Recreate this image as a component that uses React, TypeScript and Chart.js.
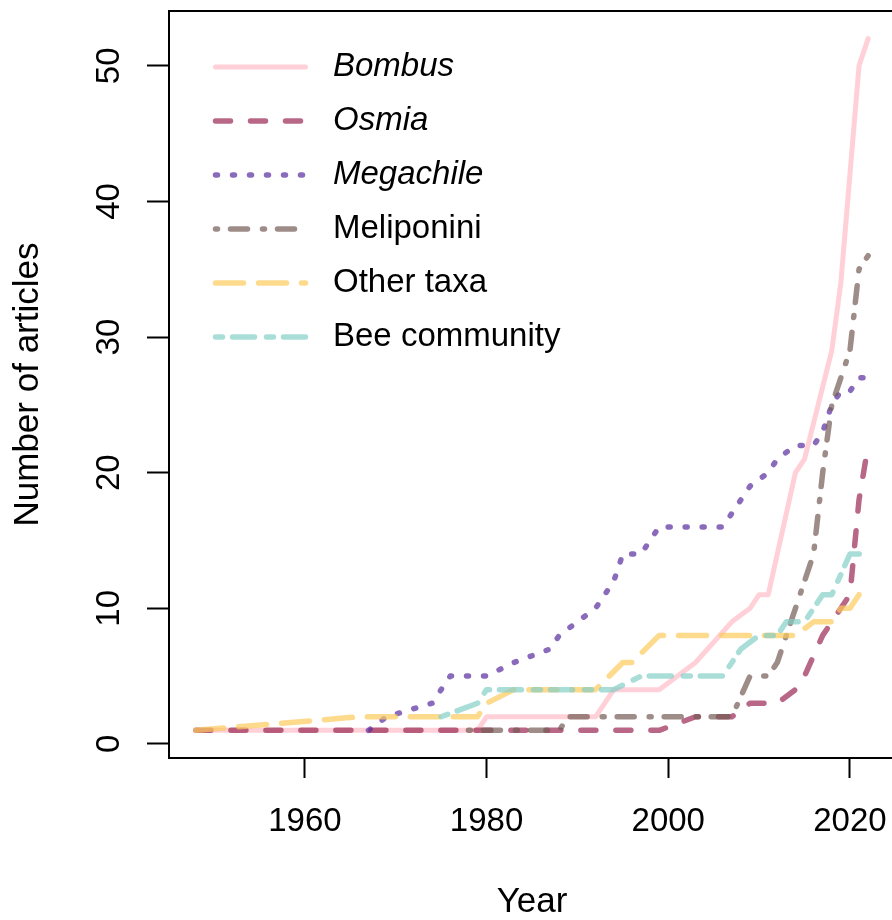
import React, { useEffect, useRef } from "react";
import { Chart, registerables } from "chart.js";

Chart.register(...registerables);

// ---------- data ----------
const SERIES_NAMES = ["Bombus", "Osmia", "Megachile", "Meliponini", "Other taxa", "Bee community"];
const SERIES_ITALIC = [true, true, true, false, false, false];

const BOMBUS_YEARS = [1948, 1979, 1980, 1992, 1994, 1999, 2003, 2007, 2009, 2010, 2011, 2014, 2015, 2018, 2019, 2020, 2021, 2022];
const BOMBUS_COUNTS = [1, 1, 2, 2, 4, 4, 6, 9, 10, 11, 11, 20, 21, 29, 34, 42, 50, 52];

const OSMIA_YEARS = [1948, 1999, 2003, 2007, 2009, 2010, 2012, 2014, 2015, 2017, 2019, 2020, 2021, 2022];
const OSMIA_COUNTS = [1, 1, 2, 2, 3, 3, 3, 4, 5, 8, 10, 11, 18, 22];

const MEGACHILE_YEARS = [1967, 1969, 1974, 1976, 1980, 1983, 1987, 1988, 1990, 1992, 1993, 1994, 1995, 1997, 1998, 1999, 2006, 2007, 2009, 2011, 2012, 2014, 2016, 2017, 2018, 2019, 2020, 2021, 2022];
const MEGACHILE_COUNTS = [1, 2, 3, 5, 5, 6, 7, 8, 9, 10, 11, 12, 14, 14, 15, 16, 16, 17, 19, 20, 21, 22, 22, 23, 25, 26, 26, 27, 27];

const MELIPONINI_YEARS = [1978, 1988, 1989, 2007, 2009, 2011, 2012, 2013, 2014, 2015, 2016, 2017, 2018, 2019, 2020, 2021, 2022];
const MELIPONINI_COUNTS = [1, 1, 2, 2, 5, 5, 6, 8, 10, 12, 14, 20, 25, 27, 29, 35, 36];

const OTHER_YEARS = [1948, 1966, 1979, 1980, 1983, 1992, 1995, 1996, 1999, 2014, 2016, 2018, 2019, 2020, 2021];
const OTHER_COUNTS = [1, 2, 2, 3, 4, 4, 6, 6, 8, 8, 9, 9, 10, 10, 11];

const COMMUNITY_YEARS = [1975, 1979, 1980, 1994, 1997, 2006, 2008, 2010, 2012, 2013, 2015, 2017, 2018, 2020, 2022];
const COMMUNITY_COUNTS = [2, 3, 4, 4, 5, 5, 7, 8, 8, 9, 9, 11, 11, 14, 14];

const X_TICKS = [1960, 1980, 2000, 2020];
const Y_TICKS = [0, 10, 20, 30, 40, 50];
const X_TITLE = "Year";
const Y_TITLE = "Number of articles";

// ---------- styles ----------
const FONT = '"Liberation Sans", Arial, Helvetica, sans-serif';
const COLORS = [
  "rgba(255,188,198,0.7)",
  "rgba(154,40,82,0.7)",
  "rgba(88,44,158,0.7)",
  "rgba(116,91,84,0.7)",
  "rgba(252,202,91,0.7)",
  "rgba(132,207,198,0.7)",
];
const DASHES: number[][] = [[], [15, 20], [2, 15], [2, 13, 17, 15], [28, 15], [7, 10, 22, 12]];
const WIDTHS = [5, 5.5, 5.5, 5.5, 5.5, 5.5];

const SERIES_YEARS = [BOMBUS_YEARS, OSMIA_YEARS, MEGACHILE_YEARS, MELIPONINI_YEARS, OTHER_YEARS, COMMUNITY_YEARS];
const SERIES_COUNTS = [BOMBUS_COUNTS, OSMIA_COUNTS, MEGACHILE_COUNTS, MELIPONINI_COUNTS, OTHER_COUNTS, COMMUNITY_COUNTS];

const boxPlugin = {
  id: "rBox",
  afterDraw(chart: any) {
    const { ctx, chartArea } = chart;
    ctx.save();
    ctx.strokeStyle = "#000";
    ctx.lineWidth = 2;
    ctx.setLineDash([]);
    ctx.strokeRect(chartArea.left, chartArea.top, chartArea.right - chartArea.left, chartArea.bottom - chartArea.top);
    ctx.restore();
  },
};

const legendPlugin = {
  id: "rLegend",
  afterDraw(chart: any) {
    const ctx = chart.ctx;
    const top = 67;
    const step = 54;
    const x0 = 215.5;
    const x1 = 305.5;
    const tx = 333;
    chart.data.datasets.forEach((ds: any, i: number) => {
      const y = top + i * step;
      ctx.save();
      ctx.strokeStyle = ds.borderColor;
      ctx.lineWidth = ds.borderWidth;
      ctx.lineCap = "round";
      ctx.setLineDash(ds.borderDash || []);
      ctx.beginPath();
      ctx.moveTo(x0, y);
      ctx.lineTo(x1, y);
      ctx.stroke();
      ctx.setLineDash([]);
      ctx.fillStyle = "#000";
      ctx.font = `${SERIES_ITALIC[i] ? "italic " : ""}33px ${FONT}`;
      ctx.textAlign = "left";
      ctx.textBaseline = "middle";
      ctx.fillText(ds.label, tx, y);
      ctx.restore();
    });
  },
};

export default function App() {
  const ref = useRef<HTMLCanvasElement | null>(null);

  useEffect(() => {
    if (!ref.current) return;
    const datasets = SERIES_NAMES.map((name, i) => ({
      label: name,
      data: SERIES_YEARS[i].map((yr, j) => ({ x: yr, y: SERIES_COUNTS[i][j] })),
      borderColor: COLORS[i],
      backgroundColor: COLORS[i],
      borderWidth: WIDTHS[i],
      borderDash: DASHES[i],
      borderCapStyle: "round",
      borderJoinStyle: "round",
      pointRadius: 0,
      tension: 0,
      fill: false,
      order: SERIES_NAMES.length - i,
    }));

    const chart = new Chart(ref.current, {
      type: "line",
      data: { datasets } as any,
      options: {
        animation: false,
        responsive: false,
        devicePixelRatio: 1,
        events: [],
        layout: { padding: { left: 0, top: 11, right: 25, bottom: 0 } },
        plugins: { legend: { display: false }, tooltip: { enabled: false } },
        scales: {
          x: {
            type: "linear",
            min: 1945.04,
            max: 2024.96,
            afterBuildTicks: (s: any) => {
              s.ticks = X_TICKS.map((v) => ({ value: v }));
            },
            afterFit: (s: any) => {
              s.height = 162;
              s.paddingLeft = 0;
              s.paddingRight = 0;
            },
            grid: { drawOnChartArea: false, drawTicks: true, tickLength: 20, tickWidth: 2, tickColor: "#000" },
            border: { display: false },
            ticks: {
              color: "#000",
              font: { family: FONT, size: 33 },
              padding: 24,
              maxRotation: 0,
              minRotation: 0,
              autoSkip: false,
              callback: (v: any) => String(v),
            },
            title: {
              display: true,
              text: X_TITLE,
              color: "#000",
              font: { family: FONT, size: 35, lineHeight: 1 },
              padding: { top: 0, bottom: 0 },
            },
          },
          y: {
            type: "linear",
            min: -1.04,
            max: 54.04,
            afterBuildTicks: (s: any) => {
              s.ticks = Y_TICKS.map((v) => ({ value: v }));
            },
            afterFit: (s: any) => {
              s.width = 169;
              s.paddingTop = 0;
              s.paddingBottom = 0;
            },
            grid: { drawOnChartArea: false, drawTicks: true, tickLength: 22, tickWidth: 2, tickColor: "#000" },
            border: { display: false },
            ticks: {
              color: "#000",
              font: { family: FONT, size: 33 },
              padding: 18.5,
              minRotation: 90,
              maxRotation: 90,
              crossAlign: "center",
              autoSkip: false,
              callback: (v: any) => String(v),
            },
            title: {
              display: true,
              text: Y_TITLE,
              color: "#000",
              font: { family: FONT, size: 35, lineHeight: 1 },
              padding: { top: 10.5, bottom: 0 },
            },
          },
        },
      } as any,
      plugins: [boxPlugin, legendPlugin],
    });
    return () => chart.destroy();
  }, []);

  return (
    <div
      style={{
        position: "absolute",
        left: 0,
        top: 0,
        width: 892,
        height: 920,
        overflow: "hidden",
        background: "#fff",
      }}
    >
      <canvas ref={ref} width={920} height={920} style={{ display: "block" }} />
    </div>
  );
}
